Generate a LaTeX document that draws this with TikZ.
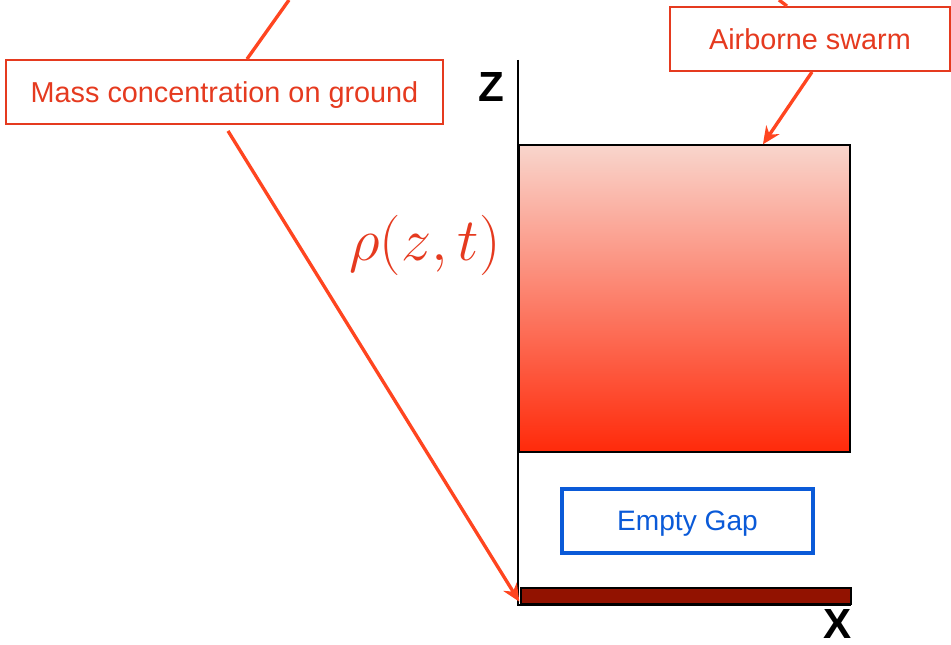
\documentclass[tikz,border=0pt]{standalone}
\usepackage{fontspec}
\setmainfont{Liberation Sans}
\usepackage{xcolor}
\usetikzlibrary{arrows.meta}
\usetikzlibrary{calc}
\usetikzlibrary{positioning}

\definecolor{labelred}{HTML}{E53A1F}
\definecolor{arrowred}{HTML}{FF4520}
\definecolor{swarmtop}{HTML}{F9D5CC}
\definecolor{swarmbot}{HTML}{FF2A0A}
\definecolor{groundred}{HTML}{921200}
\definecolor{gapblue}{HTML}{0A5AD8}

\tikzset{
  labelbox/.style={draw=labelred, line width=1.1pt, text=labelred, minimum height=1.28cm,
    inner sep=0pt, text depth=0pt, font=\fontsize{16.4}{18}\selectfont},
  gapbox/.style={draw=gapblue, line width=2pt, text=gapblue, minimum width=5.02cm,
    minimum height=1.28cm, inner sep=0pt, text depth=0pt, font=\fontsize{16}{18}\selectfont},
  pointer/.style={arrowred, line width=1.9pt, -{Stealth[length=10pt,width=9pt]}},
  axislabel/.style={font=\fontsize{24}{26}\selectfont\bfseries, inner sep=0pt}
}

\begin{document}
\begin{tikzpicture}[x=0.02cm,y=-0.02cm]
    \useasboundingbox (0,0) rectangle (951,645);
    % axes
    \coordinate (O) at (518,605);
    \coordinate (zend) at (518,60);
    \coordinate (xend) at (851,605);
    % swarm and ground
    \node[draw=black, line width=0.8pt, top color=swarmtop, bottom color=swarmbot,
      minimum width=6.62cm, minimum height=6.14cm, inner sep=0pt] (swarm) at (684.5,298.5) {};
    \node[draw=black, line width=0.8pt, fill=groundred, minimum width=6.6cm,
      minimum height=0.32cm, inner sep=0pt] (ground) at (686,596) {};
    \draw[line width=1pt] (zend) |- (xend);
    \node[axislabel] (zlab) at (491,87) {Z};
    \node[axislabel] (xlab) at (838,624) {X};
    \node[text=labelred, font=\fontsize{24.88}{28}\selectfont, inner sep=0pt] (rho) at (425,245)
      {\scalebox{1.38}{$\rho(z,t)$}};
    % labels
    \node[labelbox, minimum width=8.74cm] (mass) at (224.5,92) {Mass concentration on ground};
    \node[labelbox, minimum width=5.6cm] (airborne) at (810,39) {Airborne swarm};
    \node[gapbox] (gap) at (687.5,521) {Empty Gap};
    % leaders off the top
    \coordinate (massup) at (289,0);
    \coordinate (airup) at (779,0);
    \draw[arrowred, line width=1.9pt] (mass.north) ++(22.5,0) -- (massup);
    \draw[arrowred, line width=1.9pt] (airborne.north) ++(-23,0) -- (airup);
    \draw[pointer] ($(mass.south)+(3.5,6)$) -- ($(ground.south west)+(-1,-3)$);
    \draw[pointer] ($(airborne.south)+(2,0)$) -- ($(swarm.north west)!0.736!(swarm.north east)$);
\end{tikzpicture}
\end{document}
